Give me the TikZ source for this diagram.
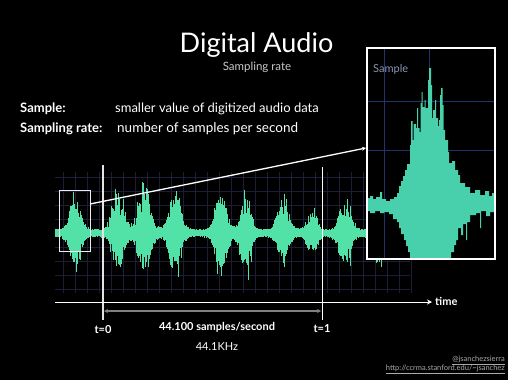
\documentclass[tikz,border=0pt]{standalone}
\usepackage{fontspec}
\setmainfont{Lato}
\usetikzlibrary{arrows.meta}
\definecolor{wave}{RGB}{82,226,168}
\definecolor{zwave}{RGB}{72,208,172}
\definecolor{gridc}{RGB}{28,30,56}
\definecolor{zgrid}{RGB}{30,52,108}
\definecolor{subt}{RGB}{200,200,200}
\definecolor{labc}{RGB}{140,150,180}
\definecolor{credc}{RGB}{170,170,170}
\pgfmathdeclarefunction{bmp}{3}{\begingroup\pgfmathparse{1/(1+min(abs(#1-#2)/#3,10)^4)}\pgfmathsmuggle\pgfmathresult\endgroup}
\tikzset{
  txt/.style={text=white, inner sep=0pt},
  gridline/.style={gridc, line width=0.6pt},
  zgridline/.style={zgrid, line width=1pt},
}
\begin{document}
\begin{tikzpicture}[x=1pt,y=-1pt]
\fill[black] (0,0) rectangle (508,380);
\useasboundingbox (0,0) rectangle (508,380);
\pgfmathsetseed{12}
% grid
\foreach \x in {63,75,...,411}{\draw[gridline] (\x,172) -- (\x,293);}
\foreach \y in {177,191,...,289}{\draw[gridline] (55,\y) -- (410,\y);}
% waveform
\foreach \x in {55,55.6,...,409}{
  \pgfmathsetmacro\eu{38*bmp(\x,75,7)+42*bmp(\x,118,7)+50*bmp(\x,144,7)+45*bmp(\x,175,7)+43*bmp(\x,221,7)+43*bmp(\x,246,6)+35*bmp(\x,283,7)+23*bmp(\x,312,6)+33*bmp(\x,345,7)+25*bmp(\x,378,6)}
  \pgfmathsetmacro\ed{35*bmp(\x,75,7)+42*bmp(\x,118,7)+49*bmp(\x,144,7)+47*bmp(\x,175,7)+43*bmp(\x,221,7)+42*bmp(\x,246,6)+30*bmp(\x,283,7)+22*bmp(\x,312,6)+37*bmp(\x,345,7)+37*bmp(\x,378,6)}
  \pgfmathsetmacro\u{2+1.5*rnd+\eu*(0.35+0.4*rnd+0.3*(rnd>0.85))}
  \pgfmathsetmacro\d{2+1.5*rnd+\ed*(0.35+0.4*rnd+0.3*(rnd>0.85))}
  \draw[wave, line width=0.7pt] (\x,233-\u) -- (\x,233+\d);
}
% time lines
\draw[white!78!gray, line width=1.2pt] (103,165) -- (103,320);
\draw[white, line width=1pt] (322,167) -- (322,320);
% small box
\node[draw=white!85!gray, line width=1pt, minimum width=31pt, minimum height=61pt, inner sep=0pt] (sbox) at (74.5,220.5) {};
% zoom box
\fill[black] (367,48) rectangle (495,259);
\begin{scope}
\clip (368,49) rectangle (494,258);
\draw[zgridline] (384,48) -- (384,259);
\draw[zgridline] (429,48) -- (429,259);
\draw[zgridline] (367,101) -- (495,101);
\draw[zgridline] (367,150) -- (495,150);
\fill[zwave] (366,198) -- (370,198) -- (370,196) -- (373,196) -- (373,199) -- (376,199) -- (376,197) -- (380,197) -- (380,192) -- (382,192) -- (382,199) -- (386,199) -- (386,201) -- (390,201) -- (390,199) -- (394,199) -- (394,197) -- (397,197) -- (397,193) -- (399,193) -- (399,186) -- (401,186) -- (401,181) -- (403,181) -- (403,176) -- (405,176) -- (405,170) -- (407,170) -- (407,164) -- (410,164) -- (410,145) -- (411,145) -- (411,121) -- (412.5,121) -- (412.5,140) -- (413.5,140) -- (413.5,124) -- (416,124) -- (416,128) -- (417,128) -- (417,108) -- (418,108) -- (418,128) -- (419.5,128) -- (419.5,132) -- (420.5,132) -- (420.5,103) -- (421.5,103) -- (421.5,92) -- (422.5,92) -- (422.5,107) -- (424.5,107) -- (424.5,100) -- (425.5,100) -- (425.5,108) -- (428,108) -- (428,80) -- (429,80) -- (429,68) -- (431,68) -- (431,85) -- (432,85) -- (432,118) -- (433,118) -- (433,110) -- (435,110) -- (435,100) -- (436,100) -- (436,118) -- (438,118) -- (438,126) -- (439,126) -- (439,120) -- (440,120) -- (440,95) -- (441,95) -- (441,88) -- (442.5,88) -- (442.5,105) -- (443.5,105) -- (443.5,130) -- (445,130) -- (445,140) -- (448,140) -- (448,152) -- (449,152) -- (449,163) -- (452,163) -- (452,161) -- (455,161) -- (455,170) -- (458,170) -- (458,175) -- (460,175) -- (460,183) -- (465,183) -- (465,187) -- (470,187) -- (470,193) -- (475,193) -- (475,190) -- (480,190) -- (480,195) -- (485,195) -- (485,191) -- (489,191) -- (489,196) -- (492,196) -- (492,193) -- (496,193)
  -- (496,212) -- (490,212) -- (490,216) -- (486,216) -- (486,211) -- (481,211) -- (481,228) -- (480,228) -- (480,213) -- (476,213) -- (476,215) -- (470,215) -- (470,222) -- (467,222) -- (467,240) -- (466,240) -- (466,224) -- (463,224) -- (463,235) -- (461,235) -- (461,228) -- (458,228) -- (458,240) -- (456,240) -- (456,245) -- (454,245) -- (454,252) -- (451,252) -- (451,262) -- (410,262) -- (410,252) -- (408,252) -- (408,246) -- (406,246) -- (406,240) -- (404,240) -- (404,234) -- (401,234) -- (401,228) -- (399,228) -- (399,222) -- (397,222) -- (397,219) -- (393,219) -- (393,214) -- (389,214) -- (389,212) -- (384,212) -- (384,213) -- (380,213) -- (380,211) -- (375,211) -- (375,213) -- (370,213) -- (370,211) -- (366,211) -- cycle;
\end{scope}
\node[text=labc, font=\fontsize{11}{13}\selectfont, anchor=base west, inner sep=0pt] (slab) at (373,72) {Sample};
\node[draw=white, line width=2pt, minimum width=128pt, minimum height=211pt, inner sep=0pt] (zbox) at (431,153.5) {};
% connector
\coordinate (ca) at (90,204);
\coordinate (cb) at (366,148);
\draw[white, line width=1.3pt, -{Stealth[length=4pt,width=4pt]}] (ca) -- (cb);
% axis
\coordinate (ax0) at (55,302);
\coordinate (ax1) at (432,302);
\draw[white, line width=1pt, -{Stealth[length=5pt,width=5pt]}] (ax0) -- (ax1);
\node[txt, anchor=base west, font=\fontsize{11}{13}\selectfont\bfseries] (time) at (435,305) {time};
\coordinate (d0) at (104,311);
\coordinate (d1) at (321,311);
\draw[gray, line width=1.2pt, {Stealth[length=4pt,width=4pt]}-{Stealth[length=4pt,width=4pt]}] (d0) -- (d1);
% texts
\node[txt, anchor=base, font=\fontsize{27}{30}\selectfont] (title) at (256.5,52) {Digital Audio};
\node[txt, text=subt, anchor=base, font=\fontsize{11.5}{13}\selectfont] (sub) at (257,70.5) {Sampling rate};
\node[txt, anchor=base west, font=\fontsize{13}{15}\selectfont\bfseries] (l1) at (20,112) {Sample:};
\node[txt, anchor=base west, font=\fontsize{13}{15}\selectfont] (l1b) at (115,112) {smaller value of digitized audio data};
\node[txt, anchor=base west, font=\fontsize{13}{15}\selectfont\bfseries] (l2) at (20,132.5) {Sampling rate:};
\node[txt, anchor=base west, font=\fontsize{13.5}{15}\selectfont] (l2b) at (117,132.5) {number of samples per second};
\node[txt, anchor=base, font=\fontsize{11}{13}\selectfont\bfseries] (t0) at (103,333) {t=0};
\node[txt, anchor=base, font=\fontsize{11}{13}\selectfont\bfseries] (t1) at (322,332) {t=1};
\node[txt, anchor=base, font=\fontsize{11}{13}\selectfont\bfseries] (rate) at (217,330.5) {44.100 samples/second};
\node[txt, anchor=base, font=\fontsize{11}{13}\selectfont] (khz) at (217,350.5) {44.1KHz};
\node[txt, text=credc, anchor=base east, font=\fontsize{7.5}{9}\selectfont] (c1) at (505,361) {\underline{@jsanchezsierra}};
\node[txt, text=credc, anchor=base east, font=\fontsize{7.5}{9}\selectfont] (c2) at (505,370.5) {\underline{http://ccrma.stanford.edu/\textasciitilde jsanchez}};
\end{tikzpicture}
\end{document}
